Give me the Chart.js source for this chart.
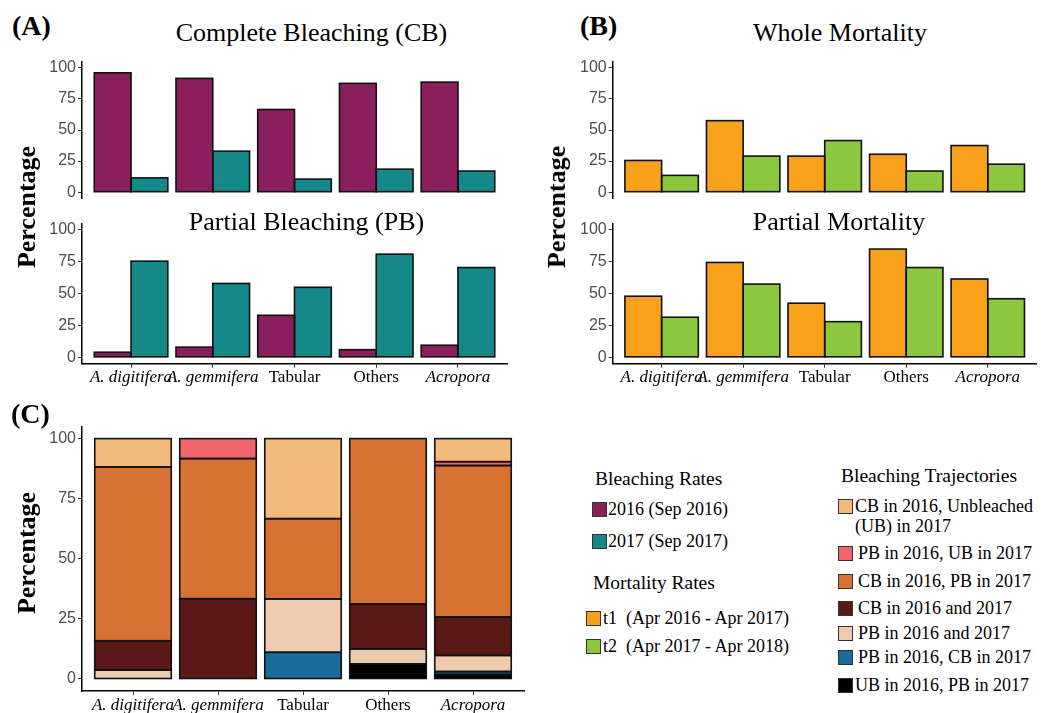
<!DOCTYPE html>
<html>
<head>
<meta charset="utf-8">
<title>Bleaching and mortality by taxon</title>
<script src="https://cdn.jsdelivr.net/npm/chart.js@4.4.1/dist/chart.umd.min.js"></script>
<style>
  body { margin: 0; width: 1047px; height: 713px; overflow: hidden; position: relative;
         background: #fff; font-family: "Liberation Serif", serif; color: #000; }
  canvas { position: absolute; }
  .txt { position: absolute; white-space: pre; line-height: 1; }
  .key { position: absolute; width: 13px; height: 13px; border: 1px solid #333; }
</style>
</head>
<body>
<canvas id="cA1" width="525" height="160" style="left:0;top:50px"></canvas>
<canvas id="cA2" width="525" height="185" style="left:0;top:212px"></canvas>
<canvas id="cB1" width="525" height="160" style="left:530px;top:50px"></canvas>
<canvas id="cB2" width="525" height="185" style="left:530px;top:212px"></canvas>
<canvas id="cC" width="540" height="298" style="left:0;top:415px"></canvas>
<script>
// ─── Data ────────────────────────────────────────────────────────────────────

const categories = ['A. digitifera', 'A. gemmifera', 'Tabular', 'Others', 'Acropora'];
const italicCats = [true, true, false, false, true];
const yTicks = [0, 25, 50, 75, 100];

// Complete / partial bleaching (%)
const cb2016 = [96, 91.5, 66.5, 87.5, 88.5];
const cb2017 = [11.5, 33, 10.5, 18.5, 17];
const pb2016 = [4, 8, 33, 6, 9.5];
const pb2017 = [75.5, 58, 55, 81, 70.5];

// Whole / partial mortality (%)
const wholeT1 = [25.5, 57.5, 29, 30.5, 37.5];
const wholeT2 = [13.5, 29, 41.5, 17, 22.5];
const partialT1 = [48, 74.5, 42.5, 85, 61.5];
const partialT2 = [31.5, 57.5, 28, 70.5, 46];

// Bleaching trajectories (%), listed from bottom of the stack to top
const ubPb = [null, null, null, 6.25, 1.9];
const pbCb = [null, null, 11.1, null, 1.2];
const pbPb = [3.7, null, 22.2, 6.25, 6.7];
const cbCb = [12.2, 33.4, null, 18.75, 16];
const cbPb = [72.3, 58.3, 33.4, 68.75, 63];
const pbUb = [null, 8.3, null, null, 1.6];
const cbUb = [11.8, null, 33.3, null, 9.6];

const rateLabels = ['2016 (Sep 2016)', '2017 (Sep 2017)'];
const mortLabels = ['t1  (Apr 2016 - Apr 2017)', 't2  (Apr 2017 - Apr 2018)'];
const trajLabels = ['CB in 2016, Unbleached\n(UB) in 2017', 'PB in 2016, UB in 2017', 'CB in 2016, PB in 2017',
  'CB in 2016 and 2017', 'PB in 2016 and 2017', 'PB in 2016, CB in 2017', 'UB in 2016, PB in 2017'];

// ─── Colours ─────────────────────────────────────────────────────────────────

const rateColors = ['#8b1f5e', '#15898a'];
const mortColors = ['#f9a11b', '#8dc63f'];
// same order as trajLabels (top of stack first)
const trajColors = ['#f2bb7c', '#f0656a', '#d87234', '#5a1916', '#edcbae', '#186c9c', '#000000'];

const xPos = categories.map((_, i) => i + 1);
const points = vals => vals.map((v, i) => ({ x: xPos[i], y: v }));

// ggplot-like outline: stroke centred on each bar's edge
const outlinePlugin = {
  id: 'outline',
  afterDatasetsDraw(chart) {
    const ctx = chart.ctx;
    ctx.save();
    ctx.strokeStyle = '#111';
    ctx.lineWidth = 1.6;
    chart.getSortedVisibleDatasetMetas().forEach(meta => {
      meta.data.forEach(bar => {
        const { x, y, base, width } = bar.getProps(['x', 'y', 'base', 'width'], true);
        if (Math.abs(base - y) < 0.01) return;
        ctx.strokeRect(x - width / 2, Math.min(y, base), width, Math.abs(base - y));
      });
    });
    ctx.restore();
  },
};

// ─── Charts ──────────────────────────────────────────────────────────────────

function barChart(id, datasets, o) {
  return new Chart(document.getElementById(id), {
    type: 'bar',
    plugins: [outlinePlugin],
    data: {
      datasets: datasets.map(d => ({
        data: points(d.values),
        backgroundColor: d.color,
        borderWidth: 0,
        categoryPercentage: 0.9,
        barPercentage: 1,
      })),
    },
    options: {
      responsive: false,
      animation: false,
      events: [],
      layout: { padding: o.padding },
      plugins: { legend: { display: false }, tooltip: { enabled: false } },
      scales: {
        x: {
          type: 'linear', min: 0.4, max: 5.6, offset: false,
          display: o.showX, stacked: !!o.stacked,
          afterBuildTicks: s => { s.ticks = xPos.map(v => ({ value: v })); },
          afterFit: s => { s.height = o.xHeight || 0; },
          ticks: {
            autoSkip: false, maxRotation: 0, padding: 0, color: '#000',
            callback: (v, i) => categories[i],
            font: ctx => ({ family: 'Liberation Serif', size: 17, style: italicCats[ctx.index] ? 'italic' : 'normal' }),
          },
          grid: { drawOnChartArea: false, offset: false, tickLength: 4, color: '#333' },
          border: { color: '#000', width: 1.5 },
        },
        y: {
          min: -5, max: 105, stacked: !!o.stacked,
          afterBuildTicks: s => { s.ticks = yTicks.map(v => ({ value: v })); },
          afterFit: s => { s.width = o.yWidth; },
          ticks: { color: '#4d4d4d', padding: 2, font: { family: 'Liberation Sans', size: 16 } },
          grid: { drawOnChartArea: false, tickLength: 4, color: '#333' },
          border: { color: '#000', width: 1.5 },
        },
      },
    },
  });
}

barChart('cA1', [{ values: cb2016, color: rateColors[0] }, { values: cb2017, color: rateColors[1] }],
  { showX: false, yWidth: 82, padding: { top: 10.4, bottom: 10.4, left: 0, right: 18 } });
barChart('cA2', [{ values: pb2016, color: rateColors[0] }, { values: pb2017, color: rateColors[1] }],
  { showX: true, yWidth: 82, xHeight: 33.3, padding: { top: 10.9, bottom: 0, left: 0, right: 18 } });
barChart('cB1', [{ values: wholeT1, color: mortColors[0] }, { values: wholeT2, color: mortColors[1] }],
  { showX: false, yWidth: 82.7, padding: { top: 10.4, bottom: 10.4, left: 0, right: 18.3 } });
barChart('cB2', [{ values: partialT1, color: mortColors[0] }, { values: partialT2, color: mortColors[1] }],
  { showX: true, yWidth: 82.7, xHeight: 33.3, padding: { top: 10.9, bottom: 0, left: 0, right: 18.3 } });

const stackSeries = [ubPb, pbCb, pbPb, cbCb, cbPb, pbUb, cbUb];
barChart('cC', stackSeries.map((values, i) => ({ values, color: trajColors[trajColors.length - 1 - i] })),
  { showX: true, stacked: true, yWidth: 82, xHeight: 22, padding: { top: 11.3, bottom: 0, left: 0, right: 16 } });

// ─── Texts & legends ─────────────────────────────────────────────────────────

// place text by its left edge and baseline (Liberation Serif metrics)
function text(str, x, baseline, size, extra) {
  const el = document.createElement('div');
  el.className = 'txt';
  el.textContent = str;
  el.style.left = x + 'px';
  el.style.top = (baseline - size * 0.8375) + 'px';
  el.style.fontSize = size + 'px';
  Object.assign(el.style, extra || {});
  document.body.appendChild(el);
  return el;
}

function centered(str, cx, baseline, size, extra) {
  const el = text(str, cx, baseline, size, extra);
  el.style.transform = 'translateX(-50%)';
}

function ylabel(cx, cy) {
  const el = text('Percentage', cx, cy, 26, { fontWeight: 'bold' });
  el.style.top = (cy - 13) + 'px';
  el.style.left = (cx - 0.3375 * 26) + 'px';
  el.style.transform = 'translate(-50%, 0) rotate(-90deg)';
  el.style.transformOrigin = '50% 50%';
}

text('(A)', 12, 35.5, 28, { fontWeight: 'bold' });
text('(B)', 580, 35.5, 28, { fontWeight: 'bold' });
text('(C)', 11, 423, 28, { fontWeight: 'bold' });

centered('Complete Bleaching (CB)', 311.5, 42, 26);
centered('Partial Bleaching (PB)', 306.5, 230.5, 26);
centered('Whole Mortality', 840, 42, 26);
centered('Partial Mortality', 839, 230.5, 26);

ylabel(36, 207);
ylabel(566, 207);
ylabel(36, 553);

function key(x, y, color) {
  const el = document.createElement('div');
  el.className = 'key';
  el.style.left = x + 'px';
  el.style.top = y + 'px';
  el.style.background = color;
  document.body.appendChild(el);
}

text('Bleaching Rates', 595, 485.5, 19.5);
rateLabels.forEach((lab, i) => {
  const top = [502, 534][i];
  key(592, top, rateColors[i]);
  text(lab, 608, top + 7.5 + 6, 18);
});

text('Mortality Rates', 593, 589, 19.5);
mortLabels.forEach((lab, i) => {
  const top = [611, 639][i];
  key(586, top, mortColors[i]);
  text(lab, 603, top + 7.5 + 6, 18);
});

text('Bleaching Trajectories', 841, 482, 19.5);
const trajTops = [499, 546, 574, 601, 626, 650, 678];
const trajLeft = [855, 858, 858, 858, 858, 858, 855];
trajLabels.forEach((lab, i) => {
  key(838, trajTops[i], trajColors[i]);
  lab.split('\n').forEach((line, j) => {
    text(line, trajLeft[i], trajTops[i] + 7.5 + 6 + j * 20, 18);
  });
});
</script>
</body>
</html>
